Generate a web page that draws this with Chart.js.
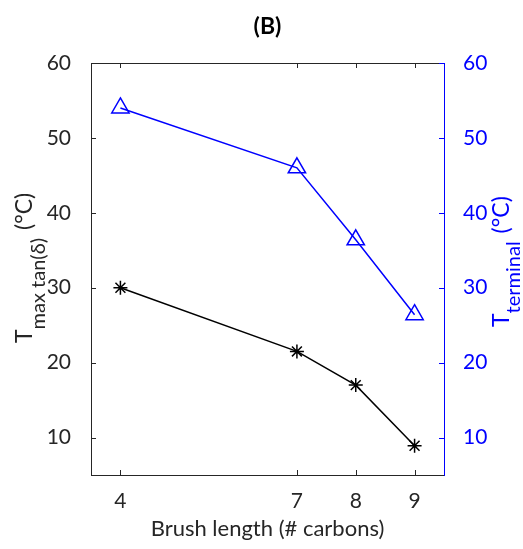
<!DOCTYPE html>
<html>
<head>
<meta charset="utf-8">
<script src="https://cdn.jsdelivr.net/npm/chart.js@4.4.1/dist/chart.umd.min.js"></script>
<style>
body { margin: 0; background: #fff; }
#wrap { width: 523px; height: 549px; }
</style>
</head>
<body>
<div id="wrap"><canvas id="myChart" width="523" height="549"></canvas></div>
<script>
// brush length (# carbons)
var carbons = [4, 7, 8, 9];
// T max tan(delta) in degC - left axis, black stars
var tMaxTan = [30, 21.5, 17, 8.9];
// T terminal in degC - right axis, blue triangles
var tTerminal = [54, 46, 36.4, 26.4];
var xTicks = [4, 7, 8, 9];
var yTicks = [10, 20, 30, 40, 50, 60];

var dark = '#262626';
var blue = '#0000ff';
var fontName = 'Lato';

function toPoints(xs, ys) {
	var pts = [];
	for (var i = 0; i < xs.length; i++) {
		pts.push({x: xs[i], y: ys[i]});
	}
	return pts;
}

function setTicks(list) {
	return function(scale) {
		scale.ticks = list.map(function(v) { return {value: v}; });
	};
}

// rotated axis label with a subscript: T_sub (°C)
function drawSubLabel(ctx, bx, by, sub, color, off) {
	ctx.save();
	ctx.translate(bx, by);
	ctx.rotate(-Math.PI / 2);
	ctx.fillStyle = color;
	ctx.textAlign = 'left';
	ctx.textBaseline = 'alphabetic';
	ctx.font = '23px ' + fontName;
	ctx.fillText('T', 0, 0);
	var w = ctx.measureText('T').width;
	ctx.font = '20px ' + fontName;
	ctx.fillText(sub, w, off);
	var w2 = ctx.measureText(sub).width;
	ctx.font = '23px ' + fontName;
	ctx.fillText('(°C)', w + w2 + 8, 0);
	ctx.restore();
}

var decor = {
	id: 'decor',
	afterDraw: function(chart) {
		var ctx = chart.ctx;
		var a = chart.chartArea;
		var x = chart.scales.x, y = chart.scales.y, y2 = chart.scales.y2;
		ctx.save();
		ctx.lineWidth = 1;
		//inward ticks, top and bottom
		ctx.strokeStyle = dark;
		xTicks.forEach(function(v) {
			var px = Math.round(x.getPixelForValue(v)) + 0.5;
			ctx.beginPath();
			ctx.moveTo(px, a.bottom); ctx.lineTo(px, a.bottom - 5);
			ctx.moveTo(px, a.top); ctx.lineTo(px, a.top + 5);
			ctx.stroke();
		});
		yTicks.forEach(function(v) {
			var py = Math.round(y.getPixelForValue(v)) + 0.5;
			ctx.beginPath();
			ctx.moveTo(a.left, py); ctx.lineTo(a.left + 5, py);
			ctx.stroke();
		});
		ctx.strokeStyle = blue;
		yTicks.forEach(function(v) {
			var py = Math.round(y2.getPixelForValue(v)) + 0.5;
			ctx.beginPath();
			ctx.moveTo(a.right, py); ctx.lineTo(a.right - 5, py);
			ctx.stroke();
		});
		ctx.fillStyle = '#000';
		ctx.font = 'bold 23px ' + fontName;
		ctx.textAlign = 'center';
		ctx.textBaseline = 'middle';
		ctx.fillText('(B)', (a.left + a.right) / 2, 27);
		ctx.restore();

		drawSubLabel(ctx, 32, 343, 'max tan(δ)', dark, 13);
		drawSubLabel(ctx, 509, 327, 'terminal', blue, 11);
	}
};

var ctx = document.getElementById('myChart');
var myChart = new Chart(ctx, {
	type: 'line',
	data: {
		datasets: [{
			label: 'T max tan(δ)',
			data: toPoints(carbons, tMaxTan),
			yAxisID: 'y',
			borderColor: '#000',
			backgroundColor: '#000',
			borderWidth: 1.5,
			pointStyle: 'star',
			pointRadius: 7,
			pointBorderWidth: 1.5,
			pointBorderColor: '#000'
		}, {
			label: 'T terminal',
			data: toPoints(carbons, tTerminal),
			yAxisID: 'y2',
			borderColor: blue,
			backgroundColor: 'rgba(0,0,0,0)',
			borderWidth: 1.5,
			pointStyle: 'triangle',
			pointRadius: 10,
			pointBorderWidth: 1.5,
			pointBorderColor: blue
		}]
	},
	options: {
		responsive: false,
		animation: false,
		layout: { padding: 0, autoPadding: false },
		plugins: {
			legend: { display: false },
			tooltip: { enabled: false }
		},
		scales: {
			x: {
				type: 'linear',
				position: 'bottom',
				min: 3.5,
				max: 9.5,
				afterBuildTicks: setTicks(xTicks),
				afterFit: function(s) { s.height = 74; },
				grid: { display: false },
				border: { display: true, color: dark, width: 1 },
				ticks: { color: dark, font: { family: fontName, size: 21 }, padding: 6 },
				title: {
					display: true,
					text: 'Brush length (# carbons)',
					color: dark,
					font: { family: fontName, size: 22 },
					padding: { top: 0, bottom: 7 }
				}
			},
			xTop: {
				type: 'linear',
				position: 'top',
				min: 3.5,
				max: 9.5,
				afterFit: function(s) { s.height = 63; },
				grid: { display: false },
				border: { display: true, color: dark, width: 1 },
				ticks: { display: false }
			},
			y: {
				type: 'linear',
				position: 'left',
				min: 5,
				max: 60,
				afterBuildTicks: setTicks(yTicks),
				afterFit: function(s) { s.width = 91; },
				grid: { display: false },
				border: { display: true, color: dark, width: 1 },
				ticks: { color: dark, font: { family: fontName, size: 21 }, padding: 12 }
			},
			y2: {
				type: 'linear',
				position: 'right',
				min: 5,
				max: 60,
				afterBuildTicks: setTicks(yTicks),
				afterFit: function(s) { s.width = 79; },
				grid: { display: false },
				border: { display: true, color: blue, width: 1 },
				ticks: { color: blue, font: { family: fontName, size: 21 }, padding: 11 }
			}
		}
	},
	plugins: [decor]
});
</script>
</body>
</html>
